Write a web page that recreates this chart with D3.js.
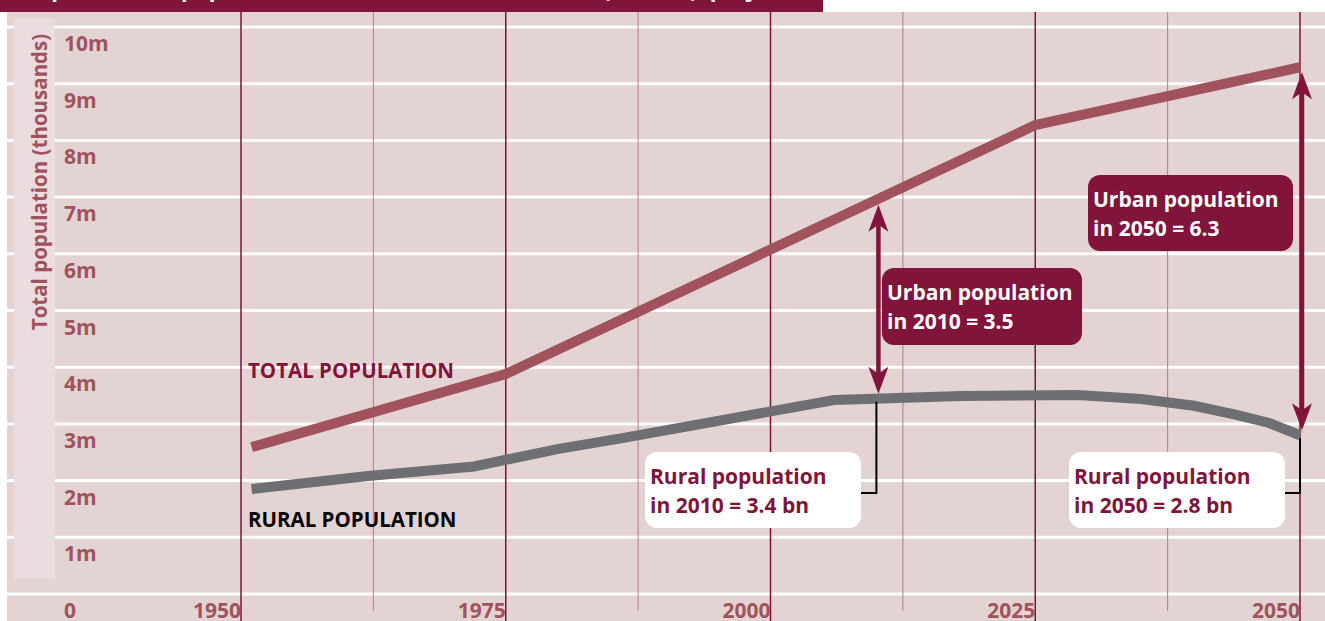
<!DOCTYPE html>
<html>
<head>
<meta charset="utf-8">
<script src="https://cdn.jsdelivr.net/npm/d3@7"></script>
<style>
  body { margin: 0; background: #ffffff; }
  svg text { font-family: "Open Sans", sans-serif; font-weight: 700; }
</style>
</head>
<body>
<div id="chart"></div>
<script>
// values (axis is printed as "m" / thousands, kept as printed)
const totalYears = [1951, 1975, 2025, 2050];
const totalValues = [2.59, 3.88, 8.27, 9.29];

const ruralYears = [1951, 1962, 1972, 1980, 1986, 2006, 2018, 2029, 2035, 2040, 2044, 2047, 2050];
const ruralValues = [1.85, 2.08, 2.25, 2.56, 2.75, 3.42, 3.49, 3.51, 3.44, 3.32, 3.16, 3.02, 2.80];

const yTicks = [0, 1, 2, 3, 4, 5, 6, 7, 8, 9, 10];
const yTickLabels = ["0", "1m", "2m", "3m", "4m", "5m", "6m", "7m", "8m", "9m", "10m"];
const xTicks = [1950, 1975, 2000, 2025, 2050];
const xMinor = [1962.5, 1987.5, 2012.5, 2037.5];

const urbanNoteYears = [2010, 2050];
const urbanNoteText = [["Urban population", "in 2010 = 3.5"], ["Urban population", "in 2050 = 6.3"]];
const ruralNoteYears = [2010, 2050];
const ruralNoteText = [["Rural population", "in 2010 = 3.4 bn"], ["Rural population", "in 2050 = 2.8 bn"]];

const W = 1325, H = 621;
const maroon = "#80143a";
const rose = "#a0535d";

const svg = d3.select("#chart")
    .append("svg")
    .attr("width", W)
    .attr("height", H);

// scales
const x = d3.scaleLinear().domain([1950, 2050]).range([241, 1300]);
const y = d3.scaleLinear().domain([0, 10]).range([594, 27]);

// piecewise lookups so the arrows hit the lines
const totalAt = d3.scaleLinear().domain(totalYears).range(totalValues);
const ruralAt = d3.scaleLinear().domain(ruralYears).range(ruralValues);

// title bar (cut off at the top, only descenders show)
svg.append("rect")
    .attr("x", 0).attr("y", 0)
    .attr("width", 823).attr("height", 12)
    .attr("fill", maroon);
svg.append("text")
    .attr("x", 12).attr("y", -3)
    .attr("fill", "#ffffff")
    .style("font-size", "22px")
    .text("Graph 1: World population, total and rural, 1950–2050 (billions), projection");

// background panel
svg.append("rect")
    .attr("x", 7).attr("y", 12)
    .attr("width", W - 7).attr("height", H - 12)
    .attr("fill", "#e3d3d2");

// horizontal grid
svg.append("g")
    .selectAll("line")
    .data(yTicks)
    .join("line")
    .attr("x1", 7).attr("x2", W)
    .attr("y1", d => y(d)).attr("y2", d => y(d))
    .attr("stroke", "#ffffff")
    .attr("stroke-width", 3);

// y title panel
svg.append("rect")
    .attr("x", 14).attr("y", 19)
    .attr("width", 41).attr("height", 560)
    .attr("fill", "#ebdce0");

svg.append("text")
    .attr("transform", "translate(47,182) rotate(-90)")
    .attr("text-anchor", "middle")
    .attr("fill", rose)
    .style("font-size", "20.5px")
    .text("Total population (thousands)");

// vertical lines
svg.append("g")
    .selectAll("line")
    .data(xMinor)
    .join("line")
    .attr("x1", d => x(d)).attr("x2", d => x(d))
    .attr("y1", 12).attr("y2", 611)
    .attr("stroke", "#b87a88")
    .attr("stroke-width", 1);

svg.append("g")
    .selectAll("line")
    .data(xTicks)
    .join("line")
    .attr("x1", d => x(d)).attr("x2", d => x(d))
    .attr("y1", 12).attr("y2", H)
    .attr("stroke", "#7a1535")
    .attr("stroke-width", 1.5);

// tick labels
svg.append("g")
    .selectAll("text")
    .data(yTicks)
    .join("text")
    .attr("x", 64)
    .attr("y", d => y(d) + 24)
    .attr("fill", rose)
    .style("font-size", "21px")
    .text((d, i) => yTickLabels[i]);

svg.append("g")
    .selectAll("text")
    .data(xTicks)
    .join("text")
    .attr("x", d => x(d))
    .attr("y", y(0) + 24)
    .attr("text-anchor", "end")
    .attr("fill", rose)
    .style("font-size", "21px")
    .text(d => d);

// the two lines
const line = d3.line()
    .x(d => x(d[0]))
    .y(d => y(d[1]));

svg.append("path")
    .datum(ruralYears.map((d, i) => [d, ruralValues[i]]))
    .attr("d", line)
    .attr("fill", "none")
    .attr("stroke", "#6e6f72")
    .attr("stroke-width", 10);

svg.append("path")
    .datum(totalYears.map((d, i) => [d, totalValues[i]]))
    .attr("d", line)
    .attr("fill", "none")
    .attr("stroke", rose)
    .attr("stroke-width", 10);

// line names
svg.append("text")
    .attr("x", 248).attr("y", 378)
    .attr("fill", maroon)
    .style("font-size", "20.5px")
    .text("TOTAL POPULATION");
svg.append("text")
    .attr("x", 248).attr("y", 527)
    .attr("fill", "#000000")
    .style("font-size", "20.5px")
    .text("RURAL POPULATION");

// double arrows for the urban part (gap between total and rural)
const arrows = svg.append("g");
urbanNoteYears.forEach(function(yr) {
    const ax = x(yr) + 2;
    const top = y(totalAt(yr)) + 5;
    const bot = y(ruralAt(yr)) - 5;
    arrows.append("line")
        .attr("x1", ax).attr("x2", ax)
        .attr("y1", top + 18).attr("y2", bot - 18)
        .attr("stroke", maroon)
        .attr("stroke-width", 4.5);
    arrows.append("path")
        .attr("d", `M${ax},${top} L${ax + 10},${top + 27} L${ax},${top + 20} L${ax - 10},${top + 27} Z`)
        .attr("fill", maroon);
    arrows.append("path")
        .attr("d", `M${ax},${bot} L${ax + 10},${bot - 27} L${ax},${bot - 20} L${ax - 10},${bot - 27} Z`)
        .attr("fill", maroon);
});

// boxes
const urbanBoxes = [
    {x: 882, y: 268, w: 200, h: 77},
    {x: 1088, y: 175, w: 205, h: 76}
];
const ruralBoxes = [
    {x: 645, y: 452, w: 216, h: 76},
    {x: 1069, y: 452, w: 216, h: 76}
];

// rural connectors
ruralNoteYears.forEach(function(yr, i) {
    const b = ruralBoxes[i];
    const cx = x(yr);
    svg.append("path")
        .attr("d", `M${b.x + b.w},${b.y + 41} H${cx} V${y(ruralAt(yr)) + 3}`)
        .attr("fill", "none")
        .attr("stroke", "#000000")
        .attr("stroke-width", 2);
});

function noteBox(b, lines, fill, color) {
    const g = svg.append("g");
    g.append("rect")
        .attr("x", b.x).attr("y", b.y)
        .attr("width", b.w).attr("height", b.h)
        .attr("rx", 12)
        .attr("fill", fill);
    g.selectAll("text")
        .data(lines)
        .join("text")
        .attr("x", b.x + 5)
        .attr("y", (d, i) => b.y + 32 + i * 29)
        .attr("fill", color)
        .style("font-size", "21px")
        .text(d => d);
}

urbanBoxes.forEach((b, i) => noteBox(b, urbanNoteText[i], maroon, "#ffffff"));
ruralBoxes.forEach((b, i) => noteBox(b, ruralNoteText[i], "#ffffff", maroon));
</script>
</body>
</html>
